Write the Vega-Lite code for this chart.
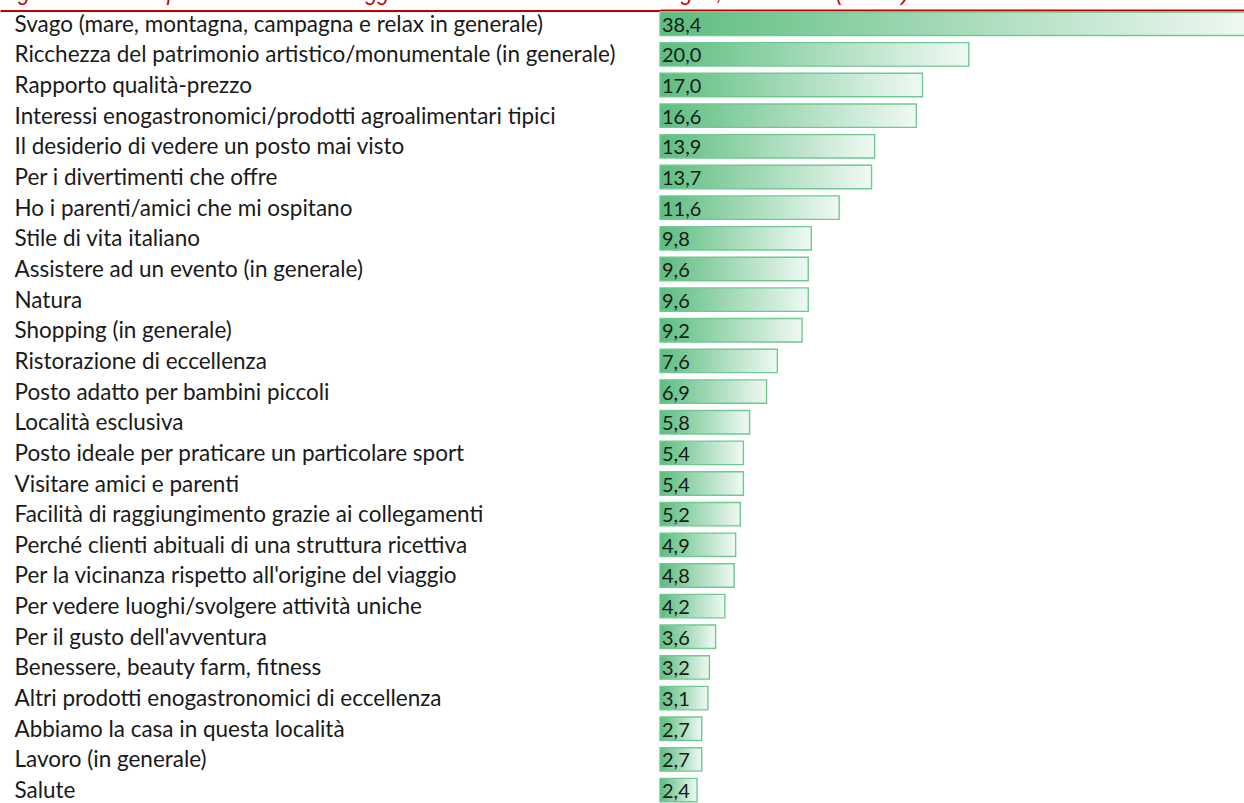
{
  "$schema": "https://vega.github.io/schema/vega-lite/v6.json",
  "width": 593,
  "height": 797,
  "autosize": {"type": "none"},
  "padding": {"left": 660, "top": 8.4, "right": 0, "bottom": 0},
  "background": "white",
  "title": {
    "text": "Fig. 2.6.10: Principali motivazioni di soggiorno dei turisti in Emilia-Romagna, anno 2023 (estate).",
    "anchor": "start",
    "frame": "group",
    "dx": -660,
    "font": "Liberation Sans",
    "fontStyle": "italic",
    "fontWeight": "normal",
    "fontSize": 21.5,
    "color": "#c00000",
    "baseline": "alphabetic",
    "offset": -13
  },
  "data": {
    "values": [
      {"motivo": "Svago (mare, montagna, campagna e relax in generale)", "valore": 38.4},
      {"motivo": "Ricchezza del patrimonio artistico/monumentale (in generale)", "valore": 20.0},
      {"motivo": "Rapporto qualità-prezzo", "valore": 17.0},
      {"motivo": "Interessi enogastronomici/prodotti agroalimentari tipici", "valore": 16.6},
      {"motivo": "Il desiderio di vedere un posto mai visto", "valore": 13.9},
      {"motivo": "Per i divertimenti che offre", "valore": 13.7},
      {"motivo": "Ho i parenti/amici che mi ospitano", "valore": 11.6},
      {"motivo": "Stile di vita italiano", "valore": 9.8},
      {"motivo": "Assistere ad un evento (in generale)", "valore": 9.6},
      {"motivo": "Natura", "valore": 9.6},
      {"motivo": "Shopping (in generale)", "valore": 9.2},
      {"motivo": "Ristorazione di eccellenza", "valore": 7.6},
      {"motivo": "Posto adatto per bambini piccoli", "valore": 6.9},
      {"motivo": "Località esclusiva", "valore": 5.8},
      {"motivo": "Posto ideale per praticare un particolare sport", "valore": 5.4},
      {"motivo": "Visitare amici e parenti", "valore": 5.4},
      {"motivo": "Facilità di raggiungimento grazie ai collegamenti", "valore": 5.2},
      {"motivo": "Perché clienti abituali di una struttura ricettiva", "valore": 4.9},
      {"motivo": "Per la vicinanza rispetto all'origine del viaggio", "valore": 4.8},
      {"motivo": "Per vedere luoghi/svolgere attività uniche", "valore": 4.2},
      {"motivo": "Per il gusto dell'avventura", "valore": 3.6},
      {"motivo": "Benessere, beauty farm, fitness", "valore": 3.2},
      {"motivo": "Altri prodotti enogastronomici di eccellenza", "valore": 3.1},
      {"motivo": "Abbiamo la casa in questa località", "valore": 2.7},
      {"motivo": "Lavoro (in generale)", "valore": 2.7},
      {"motivo": "Salute", "valore": 2.4}
    ]
  },
  "layer": [
    {
      "mark": {
        "type": "bar",
        "fill": {
          "gradient": "linear",
          "x1": 0, "y1": 0, "x2": 1, "y2": 0,
          "stops": [
            {"offset": 0, "color": "#5cbd7f"},
            {"offset": 1, "color": "#f0f9f3"}
          ]
        },
        "stroke": "#70c993",
        "strokeWidth": 1.4
      },
      "encoding": {
        "x": {
          "field": "valore",
          "type": "quantitative",
          "scale": {"domain": [0, 38.4], "nice": false, "zero": true},
          "axis": {
            "orient": "top",
            "title": null,
            "labels": false,
            "ticks": false,
            "grid": false,
            "domain": true,
            "domainColor": "#c00000",
            "domainWidth": 2,
            "offset": -1.5
          }
        },
        "y": {
          "field": "motivo",
          "type": "nominal",
          "sort": null,
          "scale": {"paddingInner": 0.235, "paddingOuter": 0.1175},
          "axis": {
            "orient": "left",
            "title": null,
            "domain": false,
            "ticks": false,
            "tickSize": 0,
            "labelAlign": "left",
            "labelBaseline": "middle",
            "labelPadding": 646,
            "labelLimit": 0,
            "labelFont": "Lato",
            "labelFontSize": 22.5,
            "labelColor": "#1a1a1a",
            "labelOffset": 1
          }
        }
      }
    },
    {
      "mark": {
        "type": "text",
        "align": "left",
        "baseline": "middle",
        "dx": 2,
        "dy": 2,
        "font": "Lato",
        "fontSize": 20,
        "color": "#1a1a1a"
      },
      "encoding": {
        "x": {"datum": 0, "type": "quantitative"},
        "y": {
          "field": "motivo",
          "type": "nominal",
          "sort": null,
          "axis": {
            "orient": "left",
            "title": null,
            "values": ["Svago (mare, montagna, campagna e relax in generale)"],
            "labels": false,
            "domain": false,
            "ticks": true,
            "bandPosition": 0,
            "tickSize": 660,
            "tickWidth": 2,
            "tickColor": "#c00000",
            "tickOffset": -2.1
          }
        },
        "text": {"field": "valore", "type": "quantitative", "format": ".1f"}
      }
    }
  ],
  "resolve": {"axis": {"y": "independent"}},
  "config": {
    "view": {"stroke": null},
    "locale": {
      "number": {"decimal": ",", "thousands": ".", "grouping": [3], "currency": ["€", ""]}
    }
  }
}
